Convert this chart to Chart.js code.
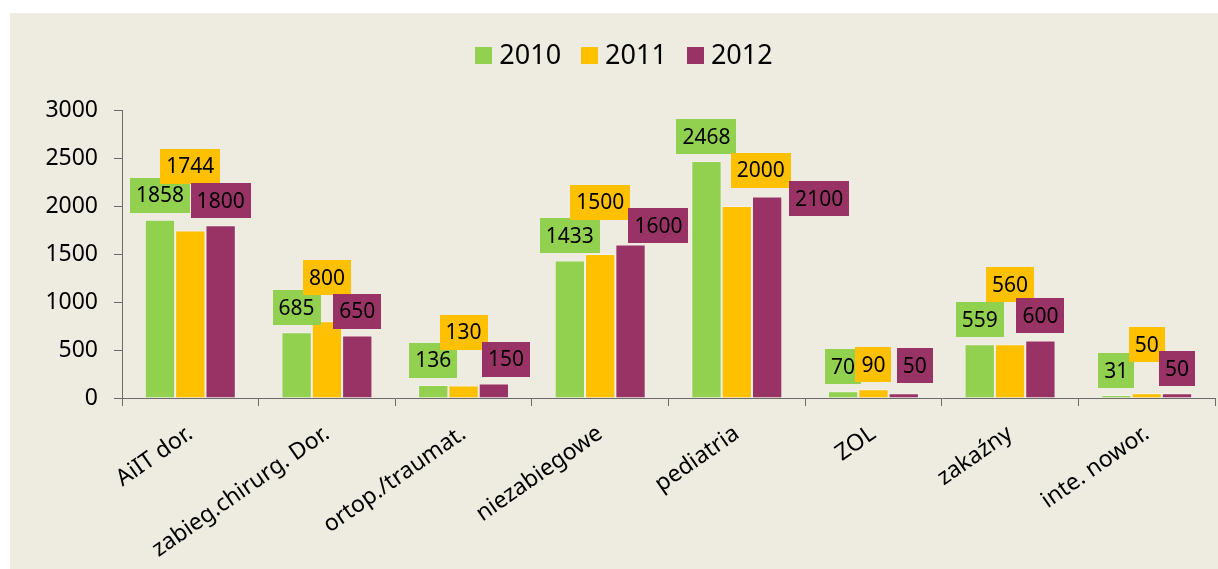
<!DOCTYPE html>
<html>
<head>
<meta charset="utf-8">
<script src="https://cdn.jsdelivr.net/npm/chart.js@4.4.1/dist/chart.umd.min.js"></script>
<style>
  html, body { margin: 0; padding: 0; background: #fff; }
  #wrap { position: absolute; left: 10px; top: 13px; width: 1208px; height: 556px; background: #eeebe0; }
</style>
</head>
<body>
<div id="wrap"><canvas id="chart"></canvas></div>
<script>
const categories = ['AiIT dor.', 'zabieg.chirurg. Dor.', 'ortop./traumat.', 'niezabiegowe', 'pediatria', 'ZOL', 'zakaźny', 'inte. nowor.'];
const years = ['2010', '2011', '2012'];
const values2010 = [1858, 685, 136, 1433, 2468, 70, 559, 31];
const values2011 = [1744, 800, 130, 1500, 2000, 90, 560, 50];
const values2012 = [1800, 650, 150, 1600, 2100, 50, 600, 50];
const yTicks = [0, 500, 1000, 1500, 2000, 2500, 3000];

const colors = ['#92d050', '#ffc000', '#993366'];

// extra nudges [dx, dy] for value boxes that were moved off their default spot
const labelShift = [
  [[0, 0], [0, 0], [0, 0], [0, 0], [0, 0], [0, 0], [0, 0], [0, 0]],
  [[0, -40], [0, -19], [0, -29], [0, -27], [24, -11], [0, 0], [0, -35], [0, -24]],
  [[0, 0], [0, 0], [12, 0], [28, 6], [52, 27], [11, -3], [0, 0], [0, 0]]
];

const FONT = '"Noto Sans", "Open Sans", sans-serif';

// ── value boxes above bars ─────────────────────────────────────
const valueBoxes = {
  id: 'valueBoxes',
  afterDatasetsDraw(chart) {
    const ctx = chart.ctx;
    ctx.save();
    ctx.font = '21px ' + FONT;
    ctx.textAlign = 'center';
    ctx.textBaseline = 'middle';
    chart.data.datasets.forEach((ds, di) => {
      chart.getDatasetMeta(di).data.forEach((bar, i) => {
        const txt = String(ds.data[i]);
        const w = ctx.measureText(txt).width + 12;
        const h = 35;
        const [dx, dy] = labelShift[di][i];
        const cx = bar.x + dx;
        const cy = bar.y - 7 - h / 2 + dy;
        ctx.fillStyle = colors[di];
        ctx.fillRect(Math.round(cx - w / 2), Math.round(cy - h / 2), Math.round(w), h);
        ctx.fillStyle = '#000';
        ctx.fillText(txt, cx, cy + 1);
      });
    });
    ctx.restore();
  }
};

// ── legend row on top ──────────────────────────────────────────
const topLegend = {
  id: 'topLegend',
  afterDraw(chart) {
    const ctx = chart.ctx;
    ctx.save();
    ctx.font = '27px ' + FONT;
    ctx.textBaseline = 'middle';
    ctx.textAlign = 'left';
    const box = 17, gap = 7, space = 20, midY = 42.5;
    const widths = years.map(t => ctx.measureText(t).width);
    const total = widths.reduce((a, b) => a + b, 0) + years.length * (box + gap) + (years.length - 1) * space;
    let x = chart.width / 2 + 10 - total / 2;
    years.forEach((t, i) => {
      ctx.fillStyle = colors[i];
      ctx.fillRect(Math.round(x), Math.round(midY - box / 2), box, box);
      ctx.fillStyle = '#000';
      ctx.fillText(t, x + box + gap, midY + 1);
      x += box + gap + widths[i] + space;
    });
    ctx.restore();
  }
};

const series = [values2010, values2011, values2012];

new Chart(document.getElementById('chart'), {
  type: 'bar',
  data: {
    labels: categories,
    datasets: series.map((vals, i) => ({
      label: years[i],
      data: vals,
      backgroundColor: colors[i],
      borderColor: 'rgba(255,255,255,0.35)',
      borderWidth: 1,
      categoryPercentage: 0.666,
      barPercentage: 1,
    }))
  },
  options: {
    responsive: true,
    maintainAspectRatio: false,
    animation: false,
    layout: { padding: { top: 97, right: 3, left: 0, bottom: 0 } },
    plugins: { legend: { display: false }, tooltip: { enabled: false } },
    scales: {
      x: {
        afterFit: s => { s.height = 171; },
        grid: { offset: true, drawOnChartArea: false, drawTicks: true, tickLength: 8, color: '#6b6b6b' },
        border: { display: true, color: '#6b6b6b', width: 1 },
        ticks: { color: '#000', font: { family: FONT, size: 23 }, minRotation: 35, maxRotation: 35, padding: 14, autoSkip: false }
      },
      y: {
        min: 0,
        max: 3000,
        afterFit: s => { s.width = 112; },
        afterBuildTicks: s => { s.ticks = yTicks.map(v => ({ value: v })); },
        grid: { drawOnChartArea: false, drawTicks: true, tickLength: 8, color: '#6b6b6b' },
        border: { display: true, color: '#6b6b6b', width: 1 },
        ticks: { color: '#000', font: { family: FONT, size: 23 }, padding: 16, callback: v => String(v) }
      }
    }
  },
  plugins: [valueBoxes, topLegend]
});
</script>
</body>
</html>
